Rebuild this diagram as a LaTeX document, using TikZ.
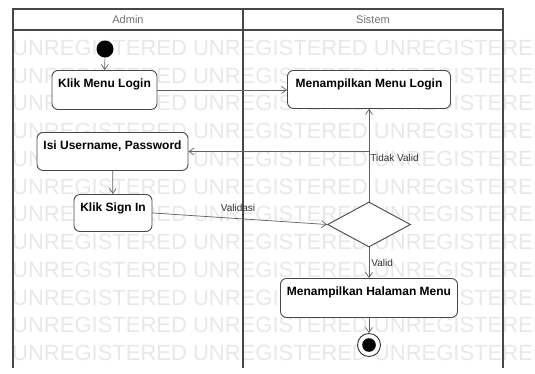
\documentclass[tikz,border=0pt]{standalone}
\usepackage{fontspec}
\setmainfont{Liberation Sans}
\usetikzlibrary{arrows.meta,shapes.geometric,calc}

\begin{document}
\begin{tikzpicture}[x=1pt,y=-1pt,
  act/.style={draw=black!72, line width=0.9pt, rounded corners=6pt, fill=white,
    inner sep=0pt, anchor=north, text height=17.5pt,
    font=\fontsize{12}{14}\selectfont\bfseries},
  flow/.style={draw=black!62, line width=0.7pt,
    -{Straight Barb[length=5pt,width=7pt]}},
  lbl/.style={font=\fontsize{10}{12}\selectfont, text=black!80, inner sep=1pt},
  lanes/.style={draw=black!72, line width=1.5pt},
  lanetitle/.style={font=\fontsize{11}{13}\selectfont, text=black!55},
  wm/.style={font=\fontsize{22}{24}\selectfont, text=black!9, anchor=west, inner sep=0pt}
]
\useasboundingbox (0,0) rectangle (535,373);

% evaluation watermark in the background
\begin{scope}
  \clip (0,0) rectangle (535,373);
  \foreach \k in {1,...,12}{
    \node[wm] at (12,{20+27.75*\k}) {UNREGISTERED UNREGISTERED UNREGISTERED};
  }
\end{scope}

% swimlanes
\fill[white] (13,9) rectangle (503,30);
\draw[lanes] (13,368) -- (13,9) -- (503,9) -- (503,368);
\draw[lanes] (13,30) -- (503,30);
\draw[lanes] (243,9) -- (243,368);
\node[lanetitle] (admin) at (128,20) {Admin};
\node[lanetitle] (sistem) at (373,20) {Sistem};

% actions
\node[circle, fill=black, minimum size=17pt, inner sep=0pt] (start) at (105,49) {};
\node[act, minimum width=105pt, text depth=21.5pt] (kml) at (104.5,70) {Klik Menu Login};
\node[act, minimum width=163pt, text depth=20.5pt] (mml) at (369,70) {Menampilkan Menu Login};
\node[act, minimum width=151pt, text depth=20.5pt] (isi) at (112.5,132) {Isi Username, Password};
\node[act, minimum width=78pt, text depth=19.5pt] (ksi) at (113,194) {Klik Sign In};
\node[diamond, draw=black!72, line width=0.9pt, fill=white, minimum width=83pt,
      minimum height=45pt, inner sep=0pt] (dec) at (369,224.5) {};
\node[act, minimum width=177pt, text depth=21.5pt] (mhm) at (369,278) {Menampilkan Halaman Menu};
\node[circle, draw=black!80, line width=0.9pt, fill=white, minimum size=23pt, inner sep=0pt,
      path picture={\fill[black] (path picture bounding box.center) circle (6.8pt);}]
      (end) at (369,345) {};

% control flow
\draw[flow] (start) -- (kml);
\draw[flow] (kml.east) -- (kml.east -| mml.west);
\draw[flow] (mml.south) -- (mml.south |- isi.east) -- (isi.east);
\draw[flow] (isi) -- (ksi);
\draw[flow] (ksi.east) -- node[lbl, pos=0.49, above=6pt] {Validasi} (dec.west);
\draw[flow] (dec.north) -- node[lbl, pos=0.47, right=0pt] {Tidak Valid} (mml.south);
\draw[flow] (dec.south) -- node[lbl, pos=0.5, right=1pt] {Valid} (mhm.north);
\draw[flow] (mhm.south) -- (end);
\end{tikzpicture}
\end{document}
